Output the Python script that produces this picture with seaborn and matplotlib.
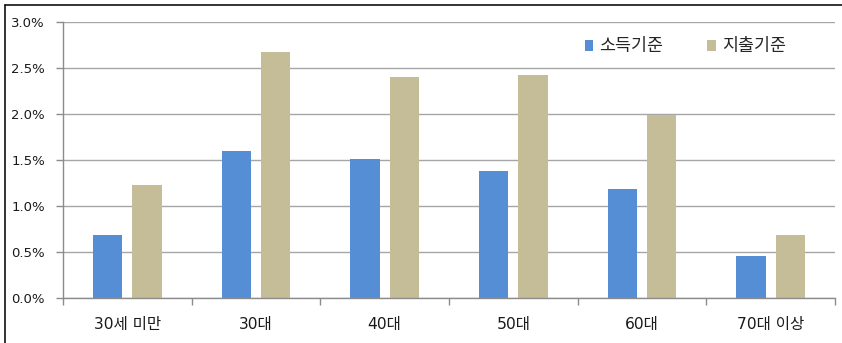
import matplotlib
matplotlib.use("Agg")
import matplotlib.pyplot as plt
from matplotlib.lines import Line2D
from matplotlib.patches import Patch
from matplotlib.ticker import PercentFormatter, FixedLocator
import seaborn as sns
import pandas as pd

# Age groups and the two measures (values in %)
age_groups = ["30세 미만", "30대", "40대", "50대", "60대", "70대 이상"]
income_based = [0.69, 1.60, 1.51, 1.38, 1.19, 0.46]
spending_based = [1.23, 2.67, 2.40, 2.42, 1.99, 0.69]
series_names = ["소득기준", "지출기준"]
y_ticks = [0.0, 0.5, 1.0, 1.5, 2.0, 2.5, 3.0]

df = pd.DataFrame({
    "group": age_groups * 2,
    "series": [series_names[0]] * len(age_groups) + [series_names[1]] * len(age_groups),
    "value": income_based + spending_based,
})

sns.set_theme(style="white")
plt.rcParams["font.family"] = ["DejaVu Sans", "Noto Sans CJK KR"]

colors = {series_names[0]: "#558ED5", series_names[1]: "#C4BD97"}

fig = plt.figure(figsize=(8.42, 3.43), dpi=100)
ax = fig.add_axes([63 / 842, 1 - 298 / 343, 772 / 842, 276 / 343])

sns.barplot(data=df, x="group", y="value", hue="series", palette=colors,
            width=0.61, gap=0.25, order=age_groups, hue_order=series_names,
            ax=ax, legend=False, saturation=1, edgecolor="none")

ax.set_xlim(-0.5, len(age_groups) - 0.5)
ax.set_ylim(0, 3.0)
ax.yaxis.set_major_locator(FixedLocator(y_ticks))
ax.yaxis.set_major_formatter(PercentFormatter(decimals=1))
ax.set_xlabel("")
ax.set_ylabel("")

grid_color = "#A6A6A6"
ax.set_axisbelow(True)
ax.yaxis.grid(True, color=grid_color, linewidth=1.0)
ax.xaxis.grid(False)
for side in ["top", "right"]:
    ax.spines[side].set_visible(False)
for side in ["left", "bottom"]:
    ax.spines[side].set_color("#8C8C8C")
    ax.spines[side].set_linewidth(1.0)

# Category boundary ticks on the x axis, labels centred between them
ax.set_xticks([i + 0.5 for i in range(-1, len(age_groups))], minor=True)
ax.tick_params(axis="x", which="minor", bottom=True, length=5, width=1, color="#8C8C8C")
ax.tick_params(axis="x", which="major", bottom=False, length=0, pad=14,
               labelsize=11.2, labelcolor="#1a1a1a")
ax.tick_params(axis="y", which="major", left=True, length=5, width=1, color="#8C8C8C",
               pad=8, labelsize=9.5, labelcolor="#1a1a1a")

handles = [Patch(facecolor=colors[s], edgecolor="none", label=s) for s in series_names]
ax.legend(handles=handles, loc="center", bbox_to_anchor=(0.806, 0.912), ncol=2,
          frameon=False, fontsize=12.5, handlelength=0.5, handleheight=0.6,
          handletextpad=0.35, columnspacing=2.5)

# Outer frame lines along the top and left edges
fig.add_artist(Line2D([5 / 842, 1.0], [1 - 5 / 343, 1 - 5 / 343],
                      transform=fig.transFigure, color="#111111", linewidth=1.2))
fig.add_artist(Line2D([5 / 842, 5 / 842], [0.0, 1 - 5 / 343],
                      transform=fig.transFigure, color="#111111", linewidth=1.2))

fig.savefig("out.png", dpi=100, facecolor="white")
